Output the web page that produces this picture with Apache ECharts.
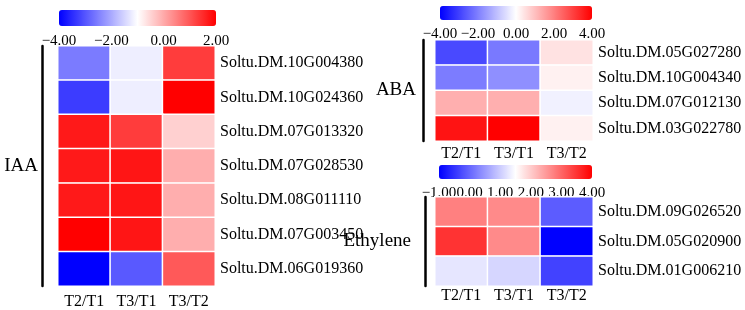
<!DOCTYPE html>
<html><head><meta charset="utf-8">
<script src="https://cdn.jsdelivr.net/npm/echarts@6/dist/echarts.min.js"></script>
<style>html,body{margin:0;padding:0;background:#fff}#c{width:745px;height:310px}</style>
</head><body><div id="c"></div>
<script>
// ---- data ----
const conditions = ['T2/T1', 'T3/T1', 'T3/T2'];

const iaaGenes = ['Soltu.DM.10G004380','Soltu.DM.10G024360','Soltu.DM.07G013320','Soltu.DM.07G028530','Soltu.DM.08G011110','Soltu.DM.07G003450','Soltu.DM.06G019360'];
const iaaValues = [
  [-2.55, -1.2, 1.3],
  [-3.3, -1.2, 2.0],
  [1.7, 1.3, -0.45],
  [1.7, 1.75, -0.05],
  [1.7, 1.75, -0.05],
  [2.0, 1.75, -0.05],
  [-4.0, -2.95, 0.95]
];
const iaaTicks = ['\u22124.00', '\u22122.00', '0.00', '2.00'];
const iaaRange = [-4, 2];

const abaGenes = ['Soltu.DM.05G027280','Soltu.DM.10G004340','Soltu.DM.07G012130','Soltu.DM.03G022780'];
const abaValues = [
  [-2.85, -2.1, 0.45],
  [-2.05, -1.75, 0.22],
  [1.25, 1.25, -0.22],
  [3.7, 4.0, 0.22]
];
const abaTicks = ['\u22124.00', '\u22122.00', '0.00', '2.00', '4.00'];
const abaRange = [-4, 4];

const ethGenes = ['Soltu.DM.09G026520','Soltu.DM.05G020900','Soltu.DM.01G006210'];
const ethValues = [
  [2.75, 2.65, -0.1],
  [3.5, 2.65, -1.0],
  [1.25, 1.1, -0.35]
];
const ethTicks = ['\u22121.00', '0.00', '1.00', '2.00', '3.00', '4.00'];
const ethRange = [-1, 4];

// ---- chart ----
const FONT = 'Liberation Serif';
const toCells = m => { const out = []; m.forEach((row, r) => row.forEach((v, c) => out.push([c, r, v]))); return out; };

const panels = [
  {genes: iaaGenes, values: iaaValues, ticks: iaaTicks, range: iaaRange, name: 'IAA',
   grid: {left: 58, top: 46, width: 157, height: 240}, bar: {left: 59, top: 10, len: 157, thick: 16},
   lineOffset: 16, nameGap: 4, xMargin: 8, tickMargin: 8},
  {genes: abaGenes, values: abaValues, ticks: abaTicks, range: abaRange, name: 'ABA',
   grid: {left: 435, top: 40, width: 158, height: 101}, bar: {left: 440, top: 6, len: 152, thick: 14},
   lineOffset: 12, nameGap: 7, xMargin: 5, tickMargin: 7},
  {genes: ethGenes, values: ethValues, ticks: ethTicks, range: ethRange, name: 'Ethylene',
   grid: {left: 435, top: 197, width: 158, height: 89}, bar: {left: 439, top: 165, len: 153, thick: 14},
   lineOffset: 10, nameGap: 14, xMargin: 2, tickMargin: 7}
];

const grid = [], xAxis = [], yAxis = [], series = [], visualMap = [];
panels.forEach((p, i) => {
  const gi = grid.length;
  grid.push(p.grid);
  xAxis.push({type: 'category', gridIndex: gi, data: conditions, position: 'bottom',
    axisLine: {show: false}, axisTick: {show: false}, splitLine: {show: false},
    axisLabel: {fontFamily: FONT, fontSize: 16, color: '#000', margin: p.xMargin}});
  const yRight = yAxis.length;
  yAxis.push({type: 'category', gridIndex: gi, data: p.genes, inverse: true, position: 'right',
    axisLine: {show: false}, axisTick: {show: false}, splitLine: {show: false},
    axisLabel: {fontFamily: FONT, fontSize: 16, color: '#000', margin: 5}});
  yAxis.push({type: 'category', gridIndex: gi, data: p.genes, inverse: true, position: 'left',
    offset: p.lineOffset,
    axisLine: {show: true, lineStyle: {color: '#000', width: 2.5}}, axisTick: {show: false},
    axisLabel: {show: false}, splitLine: {show: false},
    name: p.name, nameLocation: 'middle', nameRotate: 0, nameGap: p.nameGap,
    nameTextStyle: {fontFamily: FONT, fontSize: 19, color: '#000'}});
  const si = series.length;
  series.push({type: 'heatmap', xAxisIndex: xAxis.length - 1, yAxisIndex: yRight,
    data: toCells(p.values), itemStyle: {borderColor: '#fff', borderWidth: 1.5},
    emphasis: {disabled: true}});
  visualMap.push({type: 'continuous', seriesIndex: si, min: p.range[0], max: p.range[1],
    orient: 'horizontal', calculable: false, left: p.bar.left, top: p.bar.top, padding: 0,
    itemWidth: p.bar.thick, itemHeight: p.bar.len, text: null, hoverLink: false,
    inRange: {color: ['#0000ff', '#ffffff', '#ff0000']}});
  const gj = grid.length;
  grid.push({left: p.bar.left, top: p.bar.top + p.bar.thick, width: p.bar.len, height: 0});
  xAxis.push({type: 'category', gridIndex: gj, data: p.ticks, boundaryGap: false, position: 'bottom',
    axisLine: {show: false}, axisTick: {show: false}, splitLine: {show: false},
    axisLabel: {fontFamily: FONT, fontSize: 15, color: '#000', margin: p.tickMargin, interval: 0}});
  yAxis.push({type: 'value', gridIndex: gj, show: false});
});

const chart = echarts.init(document.getElementById('c'), null, {renderer: 'canvas'});
chart.setOption({animation: false, backgroundColor: '#fff', grid, xAxis, yAxis, series, visualMap});
</script></body></html>
